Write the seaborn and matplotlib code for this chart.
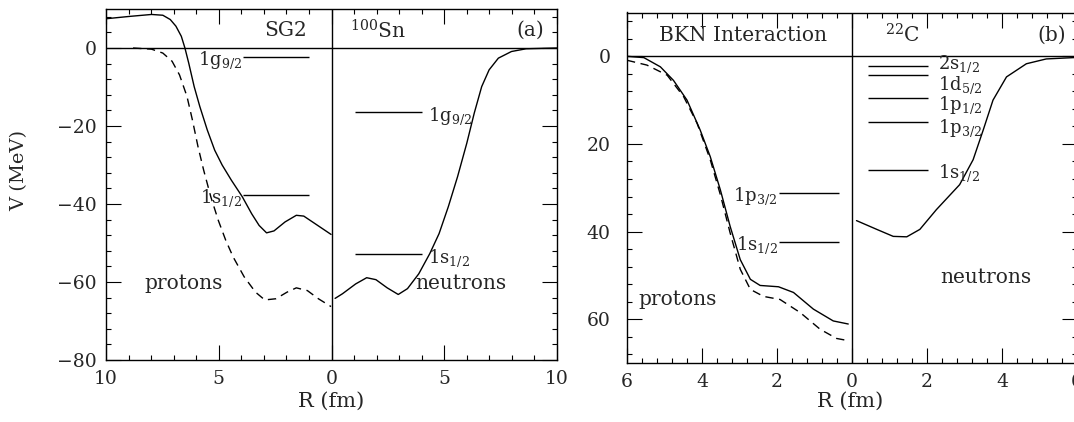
import numpy as np
import pandas as pd
import seaborn as sns
import matplotlib.pyplot as plt
from matplotlib.ticker import MultipleLocator, FixedLocator, FixedFormatter

# ---- panel (a): SG2, 100Sn ----
# protons are drawn on the negative side (R reversed)
sg2_p_r = [-10, -8.96, -7.98, -7.48, -7.15, -6.9, -6.66, -6.5, -6.33, -6.09, -5.84,
           -5.51, -5.18, -4.85, -4.44, -3.95, -3.54, -3.21, -2.88, -2.55, -2.06,
           -1.56, -1.23, -0.74, -0.02]
sg2_p_v = [7.5, 8.1, 8.6, 8.4, 7.3, 5.6, 3.0, 0.0, -3.9, -9.9, -15.0, -21.0, -26.2,
           -30.0, -33.9, -38.2, -42.5, -45.5, -47.4, -46.9, -44.6, -42.9, -43.1,
           -45.0, -47.8]
sg2_pc_r = [-8.8, -7.98, -7.48, -7.07, -6.74, -6.41, -6.17, -5.92, -5.67, -5.35,
            -5.02, -4.69, -4.36, -3.87, -3.37, -2.96, -2.47, -1.97, -1.56, -1.07,
            -0.58, -0.02]
sg2_pc_v = [0.0, -0.3, -1.3, -3.4, -6.9, -12.4, -18.4, -25.3, -31.3, -38.2, -44.2,
            -49.3, -53.6, -58.7, -62.6, -64.6, -64.3, -62.6, -61.5, -62.2, -64.3,
            -66.3]
sg2_n_r = [0.16, 0.49, 1.07, 1.56, 1.97, 2.47, 2.96, 3.37, 3.87, 4.36, 4.77, 5.18,
           5.59, 6.0, 6.33, 6.66, 6.99, 7.4, 7.98, 8.63, 10]
sg2_n_v = [-64.2, -63.0, -60.5, -58.9, -59.4, -61.5, -63.2, -61.7, -57.9, -52.7,
           -47.6, -40.7, -33.0, -24.4, -16.7, -9.9, -5.6, -2.6, -0.9, -0.2, 0.0]

sg2_p_levels = [-2.3, -37.6]
sg2_p_names = ["1g$_{9/2}$", "1s$_{1/2}$"]
sg2_n_levels = [-16.5, -52.9]
sg2_n_names = ["1g$_{9/2}$", "1s$_{1/2}$"]

# ---- panel (b): BKN, 22C ----
bkn_p_r = [-6, -5.55, -5.11, -4.76, -4.4, -4.05, -3.78, -3.51, -3.25, -2.98, -2.71,
           -2.45, -1.96, -1.56, -1.03, -0.5, -0.1]
bkn_p_v = [0.0, -0.3, -2.4, -5.5, -10.0, -16.8, -22.9, -30.5, -38.8, -46.4, -50.9,
           -52.3, -52.6, -53.9, -57.7, -60.4, -61.1]
bkn_pc_r = [-6, -5.47, -4.93, -4.49, -4.13, -3.78, -3.51, -3.25, -2.98, -2.71,
            -2.36, -1.92, -1.38, -0.85, -0.41, -0.1]
bkn_pc_v = [-0.9, -2.0, -4.3, -9.2, -15.3, -23.6, -31.6, -40.3, -48.6, -53.2,
            -54.8, -55.5, -58.5, -62.3, -64.4, -64.9]
bkn_n_r = [0.12, 0.66, 1.1, 1.46, 1.81, 2.25, 2.87, 3.23, 3.5, 3.76, 4.12, 4.65,
           5.18, 5.9, 6.2]
bkn_n_v = [-37.5, -39.5, -41.1, -41.2, -39.5, -35.0, -29.3, -23.6, -16.8, -10.0,
           -4.7, -1.7, -0.6, -0.3, -0.2]

bkn_p_levels = [-31.2, -42.3]
bkn_p_names = ["1p$_{3/2}$", "1s$_{1/2}$"]
c22_n_levels = [-2.3, -4.3, -9.5, -15.1, -25.9]
c22_n_names = ["2s$_{1/2}$", "1d$_{5/2}$", "1p$_{1/2}$", "1p$_{3/2}$", "1s$_{1/2}$"]
c22_label_y = [-1.9, -6.6, -11.1, -16.4, -26.7]

sns.set_style("ticks")
plt.rcParams["font.family"] = ["DejaVu Serif"]
plt.rcParams["mathtext.fontset"] = "dejavuserif"

W, H = 1074, 422
fig = plt.figure(figsize=(W / 100, H / 100), dpi=100)
ax1 = fig.add_axes([106 / W, 1 - 360 / H, 451 / W, 351 / H])
ax2 = fig.add_axes([627 / W, 1 - 363 / H, 450 / W, 350.5 / H])

LW = 1.0
DASH = (0, (6, 4))
TXT = 14.5   # panel words
LVL = 13     # level labels


def curve(ax, r, v, dashed=False):
    df = pd.DataFrame({"r": r, "v": v})
    kw = {"linestyle": DASH} if dashed else {}
    sns.lineplot(data=df, x="r", y="v", sort=False, estimator=None, color="k",
                 lw=LW, ax=ax, **kw)


def style(ax, xmaj, xmin, ymin, xlim, ylim):
    ax.set_xlim(*xlim)
    ax.set_ylim(*ylim)
    ax.axhline(0, color="k", lw=LW)
    ax.axvline(0, color="k", lw=LW)
    ax.xaxis.set_major_locator(FixedLocator(xmaj))
    ax.xaxis.set_major_formatter(FixedFormatter([f"{abs(t):g}" for t in xmaj]))
    ax.xaxis.set_minor_locator(MultipleLocator(xmin))
    ax.yaxis.set_minor_locator(MultipleLocator(ymin))
    ax.tick_params(which="both", direction="in", top=True, right=True,
                   width=0.8, labelsize=13.5, color="k")
    ax.tick_params(which="major", length=11, pad=7)
    ax.tick_params(which="minor", length=3.6)
    for s in ax.spines.values():
        s.set_linewidth(1.0)
        s.set_color("k")
    ax.set_xlabel("")
    ax.set_ylabel("")


# panel (a)
curve(ax1, sg2_p_r, sg2_p_v)
curve(ax1, sg2_pc_r, sg2_pc_v, dashed=True)
curve(ax1, sg2_n_r, sg2_n_v)
style(ax1, [-10, -5, 0, 5, 10], 1, 4, (-10, 10), (-80, 10))
ax1.yaxis.set_major_locator(FixedLocator([0, -20, -40, -60, -80]))
for lv, nm in zip(sg2_p_levels, sg2_p_names):
    ax1.hlines(lv, -3.93, -0.98, color="k", lw=LW)
    ax1.text(-3.95, lv - 0.8, nm, ha="right", va="center", fontsize=LVL)
for lv, nm in zip(sg2_n_levels, sg2_n_names):
    ax1.hlines(lv, 1.03, 4.03, color="k", lw=LW)
    ax1.text(4.3, lv - 1.0, nm, ha="left", va="center", fontsize=LVL)
ax1.text(-1.07, 4.5, "SG2", ha="right", va="center", fontsize=TXT)
ax1.text(0.8, 4.5, "$^{100}$Sn", ha="left", va="center", fontsize=TXT)
ax1.text(9.45, 4.5, "(a)", ha="right", va="center", fontsize=TXT)
ax1.text(-8.3, -60.5, "protons", ha="left", va="center", fontsize=TXT)
ax1.text(3.7, -60.5, "neutrons", ha="left", va="center", fontsize=TXT)

# panel (b)
curve(ax2, bkn_p_r, bkn_p_v)
curve(ax2, bkn_pc_r, bkn_pc_v, dashed=True)
curve(ax2, bkn_n_r, bkn_n_v)
style(ax2, [-6, -4, -2, 0, 2, 4, 6], 0.4, 4, (-6, 6), (-70, 10))
ax2.yaxis.set_major_locator(FixedLocator([0, -20, -40, -60]))
ax2.yaxis.set_major_formatter(FixedFormatter(["0", "20", "40", "60"]))
ax2.tick_params(axis="y", which="major", pad=12)
for lv, nm in zip(bkn_p_levels, bkn_p_names):
    ax2.hlines(lv, -1.96, -0.36, color="k", lw=LW)
    ax2.text(-1.98, lv - 0.8, nm, ha="right", va="center", fontsize=LVL)
for lv, ly, nm in zip(c22_n_levels, c22_label_y, c22_n_names):
    ax2.hlines(lv, 0.43, 2.03, color="k", lw=LW)
    ax2.text(2.3, ly, nm, ha="left", va="center", fontsize=LVL)
ax2.text(-5.15, 4.8, "BKN Interaction", ha="left", va="center", fontsize=TXT)
ax2.text(0.88, 4.8, "$^{22}$C", ha="left", va="center", fontsize=TXT)
ax2.text(5.71, 4.8, "(b)", ha="right", va="center", fontsize=TXT)
ax2.text(-5.7, -55.5, "protons", ha="left", va="center", fontsize=TXT)
ax2.text(2.34, -50.5, "neutrons", ha="left", va="center", fontsize=TXT)

fig.text(19 / W, 1 - 170 / H, "V (MeV)", rotation=90, ha="center", va="center",
         fontsize=14)
fig.text(331 / W, 1 - 401 / H, "R (fm)", ha="center", va="center", fontsize=15)
fig.text(850 / W, 1 - 401 / H, "R (fm)", ha="center", va="center", fontsize=15)

fig.savefig("out.png", dpi=100)
